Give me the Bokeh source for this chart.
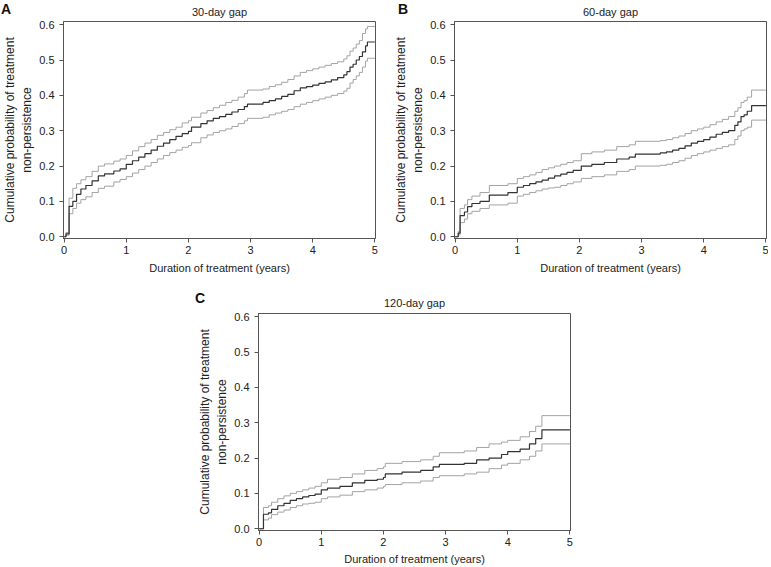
from bokeh.plotting import figure
from bokeh.layouts import column, row
from bokeh.models import (ColumnDataSource, Range1d, FixedTicker, PrintfTickFormatter,
                          Title, Spacer, Div)
from bokeh.embed import file_html
from bokeh.resources import INLINE

# ---------------- data ----------------
panel_letters = ["A", "B", "C"]
panel_titles = ["30-day gap", "60-day gap", "120-day gap"]
x_ticks = [0, 1, 2, 3, 4, 5]
y_ticks = [0.0, 0.1, 0.2, 0.3, 0.4, 0.5, 0.6]
x_title = "Duration of treatment (years)"
y_title = "Cumulative probability of treatment\nnon-persistence"

time_a = [0, 0.03, 0.08, 0.14, 0.2, 0.27, 0.35, 0.45, 0.55, 0.65, 0.8, 0.9, 1.0, 1.1, 1.2,
          1.3, 1.4, 1.5, 1.6, 1.7, 1.8, 1.9, 2.0, 2.05, 2.2, 2.3, 2.4, 2.5, 2.6, 2.7, 2.8,
          2.9, 2.95, 3.2, 3.3, 3.4, 3.5, 3.6, 3.7, 3.8, 3.9, 4.0, 4.1, 4.2, 4.3, 4.4, 4.5,
          4.55, 4.6, 4.65, 4.7, 4.75, 4.8, 4.85, 4.88, 5.0]
est_a = [0, 0.008, 0.086, 0.10, 0.12, 0.135, 0.145, 0.158, 0.172, 0.178, 0.186, 0.192, 0.205,
         0.215, 0.225, 0.235, 0.245, 0.256, 0.265, 0.275, 0.284, 0.292, 0.298, 0.31, 0.32,
         0.328, 0.335, 0.34, 0.346, 0.353, 0.36, 0.368, 0.375, 0.38, 0.385, 0.39, 0.397,
         0.403, 0.413, 0.421, 0.425, 0.429, 0.434, 0.438, 0.444, 0.45, 0.458, 0.467, 0.48,
         0.488, 0.50, 0.51, 0.523, 0.54, 0.551, 0.551]
hi_a = [0, 0.012, 0.109, 0.137, 0.15, 0.161, 0.17, 0.185, 0.2, 0.206, 0.214, 0.22, 0.23,
        0.243, 0.255, 0.265, 0.275, 0.287, 0.295, 0.303, 0.31, 0.322, 0.328, 0.338, 0.35,
        0.357, 0.365, 0.372, 0.38, 0.386, 0.395, 0.405, 0.415, 0.418, 0.425, 0.43, 0.437,
        0.445, 0.455, 0.465, 0.47, 0.475, 0.48, 0.485, 0.49, 0.495, 0.503, 0.512, 0.525,
        0.534, 0.545, 0.555, 0.575, 0.588, 0.595, 0.595]
lo_a = [0, 0.004, 0.065, 0.08, 0.095, 0.105, 0.113, 0.125, 0.137, 0.143, 0.155, 0.162, 0.17,
        0.18, 0.19, 0.2, 0.21, 0.22, 0.23, 0.238, 0.245, 0.253, 0.258, 0.266, 0.28, 0.288,
        0.295, 0.3, 0.305, 0.312, 0.32, 0.328, 0.335, 0.338, 0.345, 0.35, 0.355, 0.36,
        0.368, 0.375, 0.38, 0.385, 0.39, 0.395, 0.4, 0.405, 0.412, 0.42, 0.435, 0.445,
        0.455, 0.465, 0.48, 0.497, 0.505, 0.505]

time_b = [0, 0.05, 0.08, 0.15, 0.2, 0.27, 0.4, 0.55, 0.85, 1.0, 1.1, 1.2, 1.3, 1.4, 1.5,
          1.6, 1.7, 1.8, 1.9, 2.03, 2.2, 2.4, 2.6, 2.8, 2.9, 3.3, 3.4, 3.5, 3.6, 3.7, 3.8,
          3.9, 4.0, 4.1, 4.2, 4.3, 4.4, 4.5, 4.55, 4.6, 4.65, 4.7, 4.77, 5.0]
est_b = [0, 0.01, 0.06, 0.07, 0.085, 0.094, 0.10, 0.118, 0.125, 0.14, 0.145, 0.15, 0.155,
         0.16, 0.166, 0.172, 0.177, 0.182, 0.188, 0.20, 0.205, 0.21, 0.22, 0.225, 0.234,
         0.237, 0.24, 0.245, 0.25, 0.257, 0.265, 0.27, 0.275, 0.282, 0.29, 0.295, 0.30,
         0.315, 0.325, 0.34, 0.345, 0.355, 0.371, 0.371]
hi_b = [0, 0.015, 0.08, 0.09, 0.105, 0.115, 0.125, 0.145, 0.15, 0.165, 0.17, 0.175, 0.182,
        0.19, 0.195, 0.20, 0.205, 0.21, 0.215, 0.235, 0.24, 0.245, 0.255, 0.26, 0.27, 0.272,
        0.275, 0.28, 0.285, 0.292, 0.30, 0.305, 0.31, 0.317, 0.325, 0.332, 0.34, 0.355,
        0.365, 0.38, 0.385, 0.395, 0.415, 0.415]
lo_b = [0, 0.005, 0.04, 0.05, 0.065, 0.072, 0.08, 0.09, 0.095, 0.115, 0.12, 0.125, 0.13,
        0.135, 0.138, 0.14, 0.145, 0.15, 0.155, 0.165, 0.17, 0.175, 0.185, 0.19, 0.20,
        0.202, 0.205, 0.21, 0.215, 0.222, 0.23, 0.235, 0.24, 0.245, 0.25, 0.255, 0.26,
        0.275, 0.285, 0.30, 0.305, 0.31, 0.33, 0.33]

time_c = [0, 0.07, 0.15, 0.2, 0.3, 0.4, 0.5, 0.6, 0.7, 0.8, 0.9, 1.0, 1.1, 1.3, 1.5, 1.7,
          1.9, 2.0, 2.03, 2.3, 2.6, 2.8, 2.9, 3.3, 3.5, 3.7, 3.9, 4.0, 4.2, 4.35, 4.45,
          4.55, 5.0]
est_c = [0, 0.041, 0.045, 0.055, 0.065, 0.072, 0.08, 0.085, 0.09, 0.094, 0.098, 0.11,
         0.115, 0.12, 0.13, 0.137, 0.14, 0.145, 0.155, 0.16, 0.165, 0.175, 0.182, 0.185,
         0.195, 0.20, 0.21, 0.218, 0.225, 0.24, 0.255, 0.28, 0.28]
hi_c = [0, 0.06, 0.065, 0.075, 0.085, 0.093, 0.10, 0.105, 0.11, 0.115, 0.12, 0.13, 0.14,
        0.145, 0.155, 0.165, 0.17, 0.175, 0.185, 0.19, 0.195, 0.205, 0.215, 0.22, 0.23,
        0.24, 0.245, 0.25, 0.26, 0.275, 0.29, 0.32, 0.32]
lo_c = [0, 0.025, 0.03, 0.04, 0.047, 0.053, 0.06, 0.065, 0.07, 0.072, 0.075, 0.085, 0.09,
        0.095, 0.105, 0.11, 0.115, 0.12, 0.125, 0.13, 0.135, 0.145, 0.15, 0.155, 0.16,
        0.17, 0.18, 0.185, 0.195, 0.205, 0.22, 0.24, 0.24]

FONT = "Liberation Sans"
FRAME_W, FRAME_H = 312, 217
X0, X1 = -0.01, 5.01
Y0, Y1 = -0.005, 0.609


def make_panel(title, t, est, lo, hi, left, right, top, bottom, title_standoff, xlab_standoff):
    p = figure(frame_width=FRAME_W, frame_height=FRAME_H,
               x_range=Range1d(X0, X1), y_range=Range1d(Y0, Y1),
               output_backend="svg", toolbar_location=None,
               min_border_left=left, min_border_right=right,
               min_border_top=top, min_border_bottom=bottom,
               background_fill_color="white", border_fill_color="white")
    p.title = Title(text=title, align="center", text_font=FONT, text_font_size="11px",
                    text_font_style="normal", text_color="#222222",
                    standoff=title_standoff)
    src = ColumnDataSource(dict(t=t, est=est, lo=lo, hi=hi))
    p.step(x="t", y="hi", source=src, mode="after", line_color="#a3a3a3", line_width=1)
    p.step(x="t", y="lo", source=src, mode="after", line_color="#a3a3a3", line_width=1)
    p.step(x="t", y="est", source=src, mode="after", line_color="#333333", line_width=1.2)

    p.grid.visible = False
    p.outline_line_color = "#555555"
    p.outline_line_width = 1
    for ax in (p.xaxis[0], p.yaxis[0]):
        ax.axis_line_color = "#555555"
        ax.major_tick_line_color = "#555555"
        ax.major_tick_out = 4
        ax.major_tick_in = 0
        ax.minor_tick_line_color = None
        ax.major_label_text_font = FONT
        ax.major_label_text_font_size = "11px"
        ax.major_label_text_color = "#222222"
        ax.axis_label_text_font = FONT
        ax.axis_label_text_font_style = "normal"
        ax.axis_label_text_color = "#222222"
    p.xaxis[0].axis_label_text_font_size = "11px"
    p.yaxis[0].axis_label_text_font_size = "12px"
    p.xaxis[0].ticker = FixedTicker(ticks=x_ticks)
    p.yaxis[0].ticker = FixedTicker(ticks=y_ticks)
    p.yaxis[0].formatter = PrintfTickFormatter(format="%.1f")
    p.xaxis[0].axis_label = x_title
    p.yaxis[0].axis_label = y_title
    p.xaxis[0].major_label_standoff = 3
    p.xaxis[0].axis_label_standoff = xlab_standoff
    p.yaxis[0].major_label_standoff = 5
    p.yaxis[0].axis_label_standoff = 2
    return p


def letter_div(text, left, top):
    return Div(text=text, width=16, height=18, margin=0,
               styles={"position": "absolute", "left": f"{left}px", "top": f"{top}px",
                       "font-family": FONT, "font-size": "14px", "font-weight": "bold",
                       "color": "#111111", "line-height": "16px", "margin": "0",
                       "padding": "0", "z-index": "10"})


pA = make_panel(panel_titles[0], time_a, est_a, lo_a, hi_a, 62, 16, 20, 41, 7, 5)
pB = make_panel(panel_titles[1], time_b, est_b, lo_b, hi_b, 62, 2, 20, 41, 7, 5)
pC = make_panel(panel_titles[2], time_c, est_c, lo_c, hi_c, 62, 15, 34, 37, 10, 4)

layout = column(row(pA, pB), row(Spacer(width=195, height=10), pC),
                letter_div(panel_letters[0], 1, 1),
                letter_div(panel_letters[1], 398, 1),
                letter_div(panel_letters[2], 195, 290))

open("out.html", "w").write(file_html(layout, INLINE))
